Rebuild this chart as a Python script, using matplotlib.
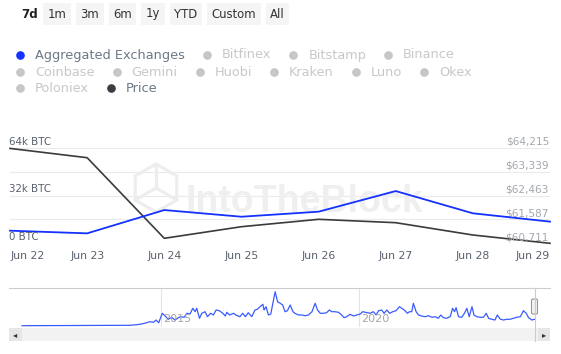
import matplotlib
matplotlib.use('Agg')
import matplotlib.pyplot as plt
from matplotlib.patches import Rectangle, FancyBboxPatch, Polygon
from matplotlib.lines import Line2D
import numpy as np

W, H = 561, 354

# main chart data (7d view)
days = ['Jun 22', 'Jun 23', 'Jun 24', 'Jun 25', 'Jun 26', 'Jun 27', 'Jun 28', 'Jun 29']
exchanges_btc = [8300, 6500, 22200, 17700, 21100, 35000, 20000, 14400]
price_usd = [64200, 63857, 60884, 61312, 61585, 61460, 61006, 60700]

btc_ticks = [0, 32000, 64000]
btc_tick_labels = ['0 BTC', '32k BTC', '64k BTC']
usd_ticks = [60711, 61587, 62463, 63339, 64215]
usd_tick_labels = ['$60,711', '$61,587', '$62,463', '$63,339', '$64,215']

# navigator (full history, arbitrary volume units)
nav_years = [2011.49, 2014.22, 2014.47, 2014.64, 2014.72, 2014.81, 2014.87, 2014.94,
             2015.03, 2015.12, 2015.18, 2015.27, 2015.35, 2015.48, 2015.58, 2015.65,
             2015.73, 2015.80, 2015.86, 2015.90, 2015.97, 2016.03, 2016.11, 2016.17,
             2016.25, 2016.32, 2016.39, 2016.47, 2016.56, 2016.62, 2016.66, 2016.73,
             2016.83, 2016.89, 2016.99, 2017.06, 2017.13, 2017.20, 2017.29, 2017.37,
             2017.43, 2017.50, 2017.57, 2017.60, 2017.65, 2017.71, 2017.77, 2017.84,
             2017.88, 2017.94, 2018.01, 2018.07, 2018.13, 2018.19, 2018.26, 2018.33,
             2018.38, 2018.47, 2018.55, 2018.64, 2018.72, 2018.81, 2018.89, 2018.95,
             2019.02, 2019.10, 2019.18, 2019.25, 2019.31, 2019.39, 2019.48, 2019.56,
             2019.62, 2019.69, 2019.77, 2019.86, 2019.94, 2020.03, 2020.09, 2020.28,
             2020.36, 2020.43, 2020.49, 2020.57, 2020.63, 2020.70, 2020.77, 2020.85,
             2020.93, 2021.02, 2021.08, 2021.14, 2021.22, 2021.27, 2021.33, 2021.37,
             2021.44, 2021.50, 2021.58, 2021.67, 2021.75, 2021.84, 2021.92, 2022.00,
             2022.06, 2022.13, 2022.21, 2022.30, 2022.36, 2022.41, 2022.45, 2022.51,
             2022.59, 2022.66, 2022.72, 2022.78, 2022.85, 2022.90, 2022.97, 2023.06,
             2023.14, 2023.21, 2023.27, 2023.35, 2023.43, 2023.49, 2023.56, 2023.64,
             2023.73, 2023.81, 2023.90, 2023.98, 2024.07, 2024.15, 2024.22, 2024.28,
             2024.36, 2024.43]
nav_volume = [0.3, 0.7, 1.7, 3.3, 4.3, 3.7, 6.0, 3.3,
              12.7, 9.3, 6.7, 8.7, 6.0, 9.3, 8.7, 12.7,
              12.0, 17.7, 14.3, 17.7, 7.7, 12.7, 14.3, 9.3,
              12.7, 11.0, 16.0, 15.3, 12.7, 10.0, 13.7, 11.0,
              12.7, 11.0, 9.3, 12.7, 9.3, 13.3, 9.3, 16.0,
              16.7, 19.3, 21.7, 16.0, 19.3, 11.0, 12.0, 26.0,
              34.3, 24.3, 22.7, 21.0, 14.3, 15.3, 21.0, 14.3,
              12.7, 11.0, 11.0, 10.3, 11.0, 14.3, 22.7, 16.0,
              12.7, 12.7, 13.3, 16.0, 14.3, 14.3, 13.7, 11.0,
              8.3, 9.3, 11.7, 10.0, 11.0, 12.0, 14.3, 12.7,
              14.3, 11.0, 15.3, 16.0, 12.7, 16.0, 12.7, 14.3,
              15.3, 19.3, 17.7, 16.0, 12.7, 14.3, 14.3, 22.7,
              14.3, 11.0, 10.0, 9.3, 10.3, 8.7, 9.3, 7.7,
              11.0, 8.3, 7.7, 9.3, 17.7, 14.3, 18.3, 9.3,
              8.7, 12.7, 17.7, 9.3, 19.3, 11.0, 9.3, 8.7,
              8.7, 12.7, 7.7, 6.7, 6.0, 11.0, 7.0, 6.0,
              6.7, 6.7, 7.7, 8.7, 9.3, 15.3, 12.7, 8.3,
              6.0, 6.7]
nav_year_ticks = [2015, 2020]

range_buttons = ['7d', '1m', '3m', '6m', '1y', 'YTD', 'Custom', 'All']
legend_rows = [
    ['Aggregated Exchanges', 'Bitfinex', 'Bitstamp', 'Binance'],
    ['Coinbase', 'Gemini', 'Huobi', 'Kraken', 'Luno', 'Okex'],
    ['Poloniex', 'Price'],
]
active_colors = {'Aggregated Exchanges': '#1432ff', 'Price': '#3a3e44'}

BLUE = '#1432ff'
DARK = '#3b3b3b'

plt.rcParams['font.family'] = 'DejaVu Sans'

fig = plt.figure(figsize=(W / 100, H / 100), dpi=100)


def fx(x):
    return x / W


def fy(y):
    return 1 - y / H


# --- main chart ---
ax = fig.add_axes([fx(10), fy(243), fx(550) - fx(10), fy(148) - fy(243)])
ax2 = ax.twinx()
ax.set_zorder(ax2.get_zorder() + 1)
ax.patch.set_visible(False)

xs = np.arange(len(days))
ax.plot(xs, exchanges_btc, color=BLUE, lw=1.3, clip_on=False, zorder=3)
ax2.plot(xs, price_usd, color=DARK, lw=1.2, clip_on=False, zorder=3)

ax.set_xlim(0, len(days) - 1)
ax.set_ylim(btc_ticks[0], btc_ticks[-1])
ax2.set_ylim(usd_ticks[0], usd_ticks[-1])
for a in (ax, ax2):
    for sp in a.spines.values():
        sp.set_visible(False)
    a.set_yticks([])

for t in usd_ticks:
    ax2.axhline(t, color='#ebebeb', lw=0.8, zorder=0)

for t, lab in zip(btc_ticks, btc_tick_labels):
    ax.annotate(lab, xy=(0, t), xycoords=('axes fraction', 'data'), xytext=(-1, 6),
                textcoords='offset pixels', ha='left', va='center', fontsize=7.4,
                color='#59616c')
for t, lab in zip(usd_ticks, usd_tick_labels):
    ax2.annotate(lab, xy=(1, t), xycoords=('axes fraction', 'data'), xytext=(-1, 6),
                 textcoords='offset pixels', ha='right', va='center', fontsize=7.6,
                 color='#a3a8ae')

ax.set_xticks(xs, days)
ax.tick_params(axis='x', length=0, pad=6, labelsize=7.8, labelcolor='#59616c')
tl = ax.get_xticklabels()
tl[0].set_ha('left')
tl[-1].set_ha('right')
tl[0].set_x(-0.002)

# watermark
ax2.text(fx(186), fy(212), 'IntoTheBlock', transform=fig.transFigure, fontsize=27,
         fontweight='bold', family='Liberation Sans', color='#efefef',
         va='baseline', ha='left', zorder=1, clip_on=False)
cx, cy, r = 156, 188, 24
ang = np.radians(np.arange(6) * 60 + 30)
hexpts = [(fx(cx + r * np.cos(a)), fy(cy - r * np.sin(a))) for a in ang]
ax2.add_patch(Polygon(hexpts, closed=True, fill=False, ec='#ededed', lw=2.2,
                      transform=fig.transFigure, clip_on=False, zorder=1))
for a in ang[[1, 3, 5]]:
    ax2.add_line(Line2D([fx(cx), fx(cx + r * np.cos(a))], [fy(cy), fy(cy - r * np.sin(a))],
                        color='#ededed', lw=2.2, transform=fig.transFigure, zorder=1))

# --- navigator ---
nav = fig.add_axes([fx(9), fy(327), fx(550) - fx(9), fy(288) - fy(327)])
nav.plot(nav_years, nav_volume, color='#3a5cff', lw=0.9)
nav.set_xlim(2011.16, 2024.82)
nav.set_ylim(-1, 38)
for k, sp in nav.spines.items():
    sp.set_visible(k == 'top')
nav.spines['top'].set_color('#cccccc')
nav.spines['top'].set_linewidth(0.8)
nav.set_yticks([])
nav.set_xticks(nav_year_ticks)
nav.tick_params(axis='x', length=0, labelbottom=False)
nav.grid(axis='x', color='#e3e3e3', lw=0.8)
for yr in nav_year_ticks:
    nav.annotate(str(yr), xy=(yr, 0), xycoords=('data', 'axes fraction'), xytext=(2, 8),
                 textcoords='offset pixels', ha='left', va='center', fontsize=8,
                 color='#a6a6a6')

# scrollbar
fig.add_artist(Rectangle((fx(9), fy(341)), fx(550) - fx(9), fy(328) - fy(341),
                         transform=fig.transFigure, fc='#f2f2f2', ec='none'))
for x0, x1, arrow in [(9, 22, '\u25c2'), (538, 550, '\u25b8')]:
    fig.add_artist(Rectangle((fx(x0), fy(341)), fx(x1) - fx(x0), fy(328) - fy(341),
                             transform=fig.transFigure, fc='#e6e6e6', ec='none'))
    fig.text(fx((x0 + x1) / 2), fy(334.5), arrow, ha='center', va='center',
             fontsize=6, color='#333333')
fig.add_artist(Line2D([fx(534.5), fx(534.5)], [fy(288), fy(341)], color='#cccccc',
                      lw=0.8, transform=fig.transFigure))
fig.add_artist(FancyBboxPatch((fx(531.5), fy(314)), fx(537.5) - fx(531.5), fy(299) - fy(314),
                              boxstyle='round,pad=0,rounding_size=0.003',
                              transform=fig.transFigure, fc='#f2f2f2', ec='#999999', lw=0.8))

# --- range buttons ---
renderer = fig.canvas.get_renderer()
fig.text(fx(21), fy(14), range_buttons[0], ha='left', va='center', fontsize=8.6,
         fontweight='bold', color='#222222')
bx = 43
for lab in range_buttons[1:]:
    t = fig.text(0, fy(14), lab, ha='center', va='center', fontsize=8.4, color='#333333')
    w = t.get_window_extent(renderer).width
    bw = w + 9
    t.set_x(fx(bx + bw / 2))
    fig.add_artist(Rectangle((fx(bx), fy(25)), fx(bw), fy(3) - fy(25),
                             transform=fig.transFigure, fc='#f5f5f5', ec='none', zorder=0))
    bx += bw + 5

# --- legend ---
row_y = [55, 72, 88]
for names, yy in zip(legend_rows, row_y):
    x = 20
    for name in names:
        on = name in active_colors
        dot = active_colors.get(name, '#c6c6c6')
        tcol = '#6c7888' if on else '#c8c8c8'
        fig.add_artist(Line2D([fx(x)], [fy(yy)], marker='o', ms=5.2, color=dot,
                              mec=dot, transform=fig.transFigure))
        t = fig.text(fx(x + 15), fy(yy), name, ha='left', va='center', fontsize=9.3,
                     color=tcol)
        w = t.get_window_extent(renderer).width
        x = x + 15 + w + 22

fig.savefig('out.png', dpi=100)
